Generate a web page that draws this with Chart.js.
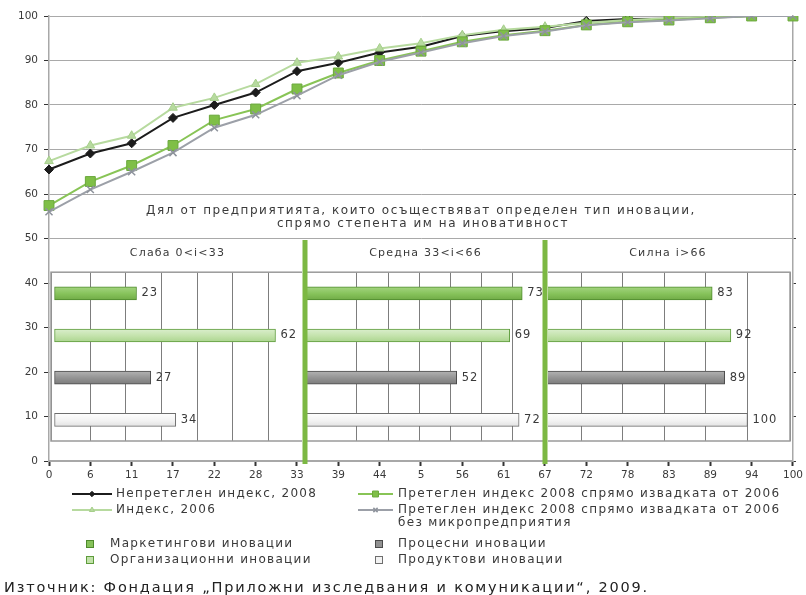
<!DOCTYPE html>
<html lang="bg">
<head>
<meta charset="utf-8">
<title>Индекс на иновативност</title>
<script src="https://cdn.jsdelivr.net/npm/chart.js@4.4.1/dist/chart.umd.min.js"></script>
<style>
  html, body { margin: 0; padding: 0; background: #ffffff; }
  #wrap { position: relative; width: 806px; height: 595px; overflow: hidden; }
  #wrap canvas { position: absolute; }
</style>
</head>
<body>
<div id="wrap">
  <canvas id="main" width="806" height="595" style="left:0;top:0"></canvas>
  <canvas id="weak" width="255" height="221" style="left:50px;top:239px"></canvas>
  <canvas id="strong" width="247" height="221" style="left:545px;top:239px"></canvas>
  <canvas id="medium" width="246" height="225" style="left:302px;top:239px"></canvas>
</div>
<script>
// Cumulative index values by innovativeness level
const xLabels = ['0','6','11','17','22','28','33','39','44','5','56','61','67','72','78','83','89','94','100'];
const unweighted2008 = [65.5, 69.1, 71.4, 77.1, 80.0, 82.8, 87.6, 89.5, 91.8, 93.1, 95.5, 96.6, 97.3, 98.9, 99.3, 99.4, 99.7, 100, 100];
const index2006      = [67.4, 70.9, 73.1, 79.4, 81.6, 84.7, 89.5, 90.9, 92.7, 93.9, 95.7, 96.9, 97.6, 98.5, 99.1, 99.5, 99.8, 100, 100];
const weighted2008   = [57.4, 62.8, 66.4, 70.9, 76.6, 79.1, 83.6, 87.2, 90.0, 92.1, 94.2, 95.7, 96.7, 98.0, 98.7, 99.1, 99.6, 100, 100];
const weightedNoMicro = [56.0, 61.0, 65.0, 69.3, 74.9, 77.8, 82.1, 86.7, 89.7, 91.8, 93.9, 95.5, 96.5, 97.9, 98.6, 99.0, 99.5, 100, 100];
const yTicks = [0, 10, 20, 30, 40, 50, 60, 70, 80, 90, 100];

// Share of enterprises by innovation type, per innovativeness group
const innovationTypes = ['Маркетингови иновации', 'Организационни иновации', 'Процесни иновации', 'Продуктови иновации'];
const weakShares   = [23, 62, 27, 34];
const mediumShares = [73, 69, 52, 72];
const strongShares = [83, 92, 89, 100];
const groupTitles = ['Слаба 0<i<33', 'Средна 33<i<66', 'Силна i>66'];

// Styling
const FONT = '"DejaVu Sans", Verdana, sans-serif';
const TEXT = '#3a3a3a';
const barPalettes = [
  ['#a6d683', '#86c25a', '#6faa45'],
  ['#dcefcf', '#c2e2aa', '#a9d38c'],
  ['#b4b4b4', '#919191', '#7a7a7a'],
  ['#ffffff', '#f3f3f3', '#e1e1e1']
];
const barBorders = ['#4e8a2c', '#5e9c3c', '#4a4a4a', '#6e6e6e'];
const SEPARATOR = '#7cb843';

function drawSpaced(ctx, text, x, y, spacing, align) {
  ctx.save();
  if ('letterSpacing' in ctx) ctx.letterSpacing = spacing + 'px';
  ctx.textAlign = align || 'left';
  ctx.fillText(text, x, y);
  ctx.restore();
}

// ---------- main line chart ----------
const lineSets = [
  { label: 'Претеглен индекс 2008 спрямо извадката от 2006 без микропредприятия', data: weightedNoMicro,
    borderColor: '#9ca0a8', backgroundColor: '#9ca0a8', pointStyle: 'crossRot', pointRadius: 5,
    pointBorderColor: '#8e939c', pointBorderWidth: 1.5, borderWidth: 2 },
  { label: 'Претеглен индекс 2008 спрямо извадката от 2006', data: weighted2008,
    borderColor: '#88c456', backgroundColor: '#7fbf47', pointStyle: 'rect', pointRadius: 7,
    pointBorderColor: '#6aa83c', pointBorderWidth: 1, borderWidth: 2 },
  { label: 'Индекс, 2006', data: index2006,
    borderColor: '#b7da9f', backgroundColor: '#b7da9f', pointStyle: 'triangle', pointRadius: 5,
    pointBorderColor: '#a6cf8b', pointBorderWidth: 1, borderWidth: 2 },
  { label: 'Непретеглен индекс, 2008', data: unweighted2008,
    borderColor: '#1c1c1c', backgroundColor: '#1c1c1c', pointStyle: 'rectRot', pointRadius: 4.5,
    pointBorderColor: '#1c1c1c', pointBorderWidth: 1, borderWidth: 2 }
];

const captionAndLegend = {
  id: 'captionAndLegend',
  afterDraw(chart) {
    const ctx = chart.ctx;
    const ds = chart.data.datasets;
    ctx.save();
    ctx.fillStyle = TEXT;
    ctx.textBaseline = 'middle';
    ctx.font = '12px ' + FONT;
    drawSpaced(ctx, 'Дял от предприятията, които осъществяват определен тип иновации,', 421, 211, 1.55, 'center');
    drawSpaced(ctx, 'спрямо степента им на иновативност', 423, 224, 1.55, 'center');

    const lineItem = (d, x0, x1, y) => {
      ctx.save();
      ctx.strokeStyle = d.borderColor;
      ctx.lineWidth = 2;
      ctx.beginPath(); ctx.moveTo(x0, y); ctx.lineTo(x1, y); ctx.stroke();
      ctx.fillStyle = d.backgroundColor;
      ctx.strokeStyle = d.pointBorderColor;
      ctx.lineWidth = d.pointBorderWidth;
      Chart.helpers.drawPoint(ctx, { pointStyle: d.pointStyle, radius: d.pointRadius * 0.6, borderWidth: d.pointBorderWidth, rotation: 0 }, (x0 + x1) / 2, y);
      ctx.restore();
    };
    const boxItem = (i, x, y) => {
      ctx.save();
      ctx.fillStyle = barPalettes[i][1];
      ctx.strokeStyle = barBorders[i];
      ctx.lineWidth = 1;
      ctx.fillRect(x - 3.5, y - 3.5, 7, 7);
      ctx.strokeRect(x - 3.5, y - 3.5, 7, 7);
      ctx.restore();
    };

    const LS = 1.3;
    ctx.font = '12px ' + FONT;
    ctx.fillStyle = TEXT;
    lineItem(ds[3], 72, 112, 494);
    drawSpaced(ctx, 'Непретеглен индекс, 2008', 116, 494, LS);
    lineItem(ds[2], 72, 112, 510);
    drawSpaced(ctx, 'Индекс, 2006', 116, 510, LS);
    lineItem(ds[1], 358, 393, 494);
    drawSpaced(ctx, 'Претеглен индекс 2008 спрямо извадката от 2006', 398, 494, LS);
    lineItem(ds[0], 358, 393, 510);
    drawSpaced(ctx, 'Претеглен индекс 2008 спрямо извадката от 2006', 398, 510, LS);
    drawSpaced(ctx, 'без микропредприятия', 398, 523, LS);

    boxItem(0, 90, 544);
    drawSpaced(ctx, innovationTypes[0], 110, 544, LS);
    boxItem(1, 90, 560);
    drawSpaced(ctx, innovationTypes[1], 110, 560, LS);
    boxItem(2, 379, 544);
    drawSpaced(ctx, innovationTypes[2], 398, 544, LS);
    boxItem(3, 379, 560);
    drawSpaced(ctx, innovationTypes[3], 398, 560, LS);

    ctx.font = '14.5px ' + FONT;
    ctx.fillStyle = '#222';
    drawSpaced(ctx, 'Източник: Фондация „Приложни изследвания и комуникации“, 2009.', 4, 588, 1.8);
    ctx.restore();
  }
};

new Chart(document.getElementById('main'), {
  type: 'line',
  data: { labels: xLabels, datasets: lineSets },
  options: {
    responsive: false, animation: false, devicePixelRatio: 1,
    layout: { padding: { top: 16, left: 0, right: 0, bottom: 114 } },
    plugins: { legend: { display: false }, tooltip: { enabled: false } },
    scales: {
      x: {
        type: 'category', offset: false,
        grid: { drawOnChartArea: false, drawTicks: true, tickLength: 5, tickColor: '#333', tickWidth: 2 },
        border: { color: '#a8a8a8', width: 1.5 },
        ticks: { autoSkip: false, maxRotation: 0, font: { family: FONT, size: 10.5 }, color: TEXT, padding: 3 },
        afterFit(s) { s.height = 20; }
      },
      y: {
        min: 0, max: 100,
        afterBuildTicks(s) { s.ticks = yTicks.map(v => ({ value: v })); },
        ticks: { font: { family: FONT, size: 10.5 }, color: TEXT, padding: 6 },
        grid: { color: '#a9a9a9', lineWidth: 1, tickLength: 5, tickColor: '#333' },
        border: { color: '#a8a8a8', width: 1.5 },
        afterFit(s) { s.width = 49; }
      },
      y2: {
        position: 'right', min: 0, max: 100,
        afterBuildTicks(s) { s.ticks = yTicks.map(v => ({ value: v })); },
        ticks: { display: false },
        grid: { drawOnChartArea: false, tickLength: 3, tickColor: '#333' },
        border: { color: '#a8a8a8', width: 1.5 },
        afterFit(s) { s.width = 13; }
      }
    }
  },
  plugins: [captionAndLegend]
});

// ---------- bar panels ----------
function barFill(c) {
  const pal = barPalettes[c.dataIndex];
  const s = c.chart.scales && c.chart.scales.y;
  if (!s || !isFinite(s.top) || s.bottom === s.top) return pal[1];
  const yc = s.getPixelForValue(c.dataIndex);
  const g = c.chart.ctx.createLinearGradient(0, yc - 7, 0, yc + 7);
  g.addColorStop(0, pal[0]);
  g.addColorStop(0.55, pal[1]);
  g.addColorStop(1, pal[2]);
  return g;
}

const panelBackground = {
  id: 'panelBackground',
  beforeDraw(chart) {
    const ctx = chart.ctx;
    ctx.save();
    ctx.fillStyle = '#ffffff';
    ctx.fillRect(0, 0, chart.width, 221);
    ctx.restore();
  }
};
const panelFrame = {
  id: 'panelFrame',
  afterDatasetsDraw(chart) {
    const a = chart.chartArea, ctx = chart.ctx;
    ctx.save();
    ctx.strokeStyle = '#9a9a9a';
    ctx.lineWidth = 1.5;
    ctx.strokeRect(a.left, a.top, a.right - a.left, a.bottom - a.top);
    ctx.restore();
  }
};
const valueLabels = {
  id: 'valueLabels',
  afterDatasetsDraw(chart) {
    const ctx = chart.ctx;
    const meta = chart.getDatasetMeta(0);
    const vals = chart.data.datasets[0].data;
    ctx.save();
    ctx.font = '11.5px ' + FONT;
    ctx.fillStyle = TEXT;
    ctx.textBaseline = 'middle';
    meta.data.forEach((bar, i) => drawSpaced(ctx, String(vals[i]), bar.x + 5, bar.y, 1));
    ctx.restore();
  }
};
const separators = {
  id: 'separators',
  afterDraw(chart) {
    const ctx = chart.ctx;
    ctx.save();
    ctx.fillStyle = SEPARATOR;
    ctx.fillRect(0.5, 1, 5, chart.height - 1);
    ctx.fillRect(chart.width - 5.5, 1, 5, chart.height - 1);
    ctx.restore();
  }
};
const spacedTitle = {
  id: 'spacedTitle',
  beforeDraw(chart) { if ('letterSpacing' in chart.ctx) chart.ctx.letterSpacing = '1.2px'; },
  afterDraw(chart) { if ('letterSpacing' in chart.ctx) chart.ctx.letterSpacing = '0px'; }
};

function panel(id, values, title, min, max, step, pad, extra) {
  return new Chart(document.getElementById(id), {
    type: 'bar',
    data: {
      labels: innovationTypes,
      datasets: [{
        data: values,
        backgroundColor: barFill,
        borderColor: c => barBorders[c.dataIndex],
        borderWidth: 1, borderSkipped: false, barThickness: 13, clip: 0
      }]
    },
    options: {
      indexAxis: 'y', responsive: false, animation: false, devicePixelRatio: 1,
      layout: { padding: pad },
      plugins: {
        legend: { display: false }, tooltip: { enabled: false },
        title: { display: true, text: title, font: { family: FONT, size: 11, weight: 'normal' }, color: TEXT, padding: { top: 8, bottom: 12 } }
      },
      scales: {
        x: {
          type: 'linear', min: min, max: max,
          ticks: { display: false, stepSize: step },
          grid: { color: '#7d7d7d', drawTicks: false, lineWidth: 1 },
          border: { display: false },
          afterFit(s) { s.height = 0; }
        },
        y: {
          type: 'category',
          ticks: { display: false },
          grid: { display: false, drawTicks: false },
          border: { display: false },
          afterFit(s) { s.width = 0; }
        }
      }
    },
    plugins: [spacedTitle, panelBackground, panelFrame, valueLabels].concat(extra || [])
  });
}

panel('weak', weakShares, groupTitles[0], -1, 70, 10, { left: 1, right: 1, top: 0, bottom: 19 });
panel('strong', strongShares, groupTitles[2], 2.9, 120.5, 20, { left: 1, right: 2, top: 0, bottom: 19 });
panel('medium', mediumShares, groupTitles[1], 3.7, 80.3, 10, { left: 4, right: 3, top: 0, bottom: 23 }, [separators]);
</script>
</body>
</html>
